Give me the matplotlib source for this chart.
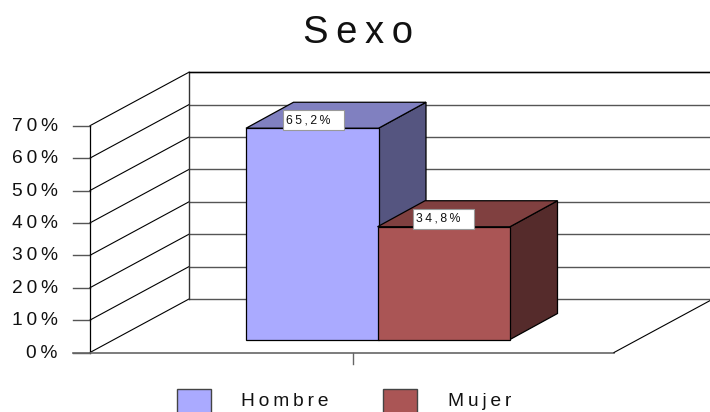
import matplotlib
matplotlib.use("Agg")
import matplotlib.pyplot as plt
from matplotlib.patches import Polygon, Rectangle

plt.rcParams["font.family"] = ["Liberation Sans", "DejaVu Sans"]

categories = ["Hombre", "Mujer"]
values = [65.2, 34.8]
value_labels = ["65,2%", "34,8%"]
y_ticks = [0, 10, 20, 30, 40, 50, 60, 70]
title = "Sexo"

front_colors = ["#AAAAFF", "#AA5555"]
top_colors = ["#8080C0", "#804040"]
side_colors = ["#555580", "#552B2B"]

# thin space between letters, the original text is tracked out
def spaced(s, sep="\u2009"):
    return sep.join(s)

px = 3.24  # pixels per percent
base_y = 352.5


def val(y_pixel):
    return (base_y - y_pixel) / px


fig = plt.figure(figsize=(7.1, 4.12), dpi=100)
ax = fig.add_axes([0, 0, 1, 1])
ax.set_xlim(0, 710)
ax.set_ylim(val(412), val(0))
ax.axis("off")

# floor and walls
left, right = 90, 614
dx, dy = 99, 53.5 / px
top = y_ticks[-1]

for t in y_ticks:
    ax.plot([left, left + dx], [t, t + dy], color="black", lw=0.8, zorder=1)
    ax.plot([left + dx, 710], [t + dy, t + dy], color="#555555", lw=1.0, zorder=1)
    ax.plot([left - 17, left], [t, t], color="#555555", lw=1.0, zorder=1)
    ax.text(57.5, t - 0.2, spaced(f"{t}%"), ha="right", va="center", fontsize=13.8, color="#111111")

ax.plot([left, left], [0, top], color="black", lw=0.9, zorder=1)
ax.plot([left + dx, left + dx], [dy, top + dy], color="#333333", lw=1.0, zorder=1)
ax.plot([left + dx, 710], [top + dy, top + dy], color="black", lw=1.0, zorder=1)
ax.plot([left - 17, right], [0, 0], color="#666666", lw=1.2, zorder=1)
ax.plot([right, right + dx], [0, dy], color="black", lw=0.8, zorder=1)
ax.plot([352.5, 352.5], [0, val(364)], color="#666666", lw=1.0, zorder=1)

# bars
bar_width = 132.5
bar_left = [246, 377.5]
bar_base = val(339.5)
bar_dx, bar_dy = 47.5, 26 / px
box_left = [283, 413]

for i, v in enumerate(values):
    x0 = bar_left[i]
    x1 = x0 + bar_width
    h = bar_base + v
    ax.add_patch(Polygon([(x1, bar_base), (x1 + bar_dx, bar_base + bar_dy), (x1 + bar_dx, h + bar_dy), (x1, h)],
                         fc=side_colors[i], ec="black", lw=0.9, zorder=2 + i))
    ax.add_patch(Polygon([(x0, h), (x0 + bar_dx, h + bar_dy), (x1 + bar_dx, h + bar_dy), (x1, h)],
                         fc=top_colors[i], ec="black", lw=0.9, zorder=2 + i))
    ax.add_patch(Rectangle((x0, bar_base), bar_width, v, fc=front_colors[i], ec="black", lw=0.9, zorder=2 + i))
    ax.add_patch(Rectangle((box_left[i], h - 0.6), 61, 20 / px, fc="white", ec="#999999", lw=0.8, zorder=5))
    ax.text(box_left[i] + 3, h - 0.6 + 10 / px, spaced(value_labels[i], "\u2009"), ha="left", va="center",
            fontsize=8.8, color="#111111", zorder=6)

ax.text(358, val(33), spaced(title, "\u2009"), ha="center", va="center", fontsize=27.5, color="#111111")

# legend
swatch_x = [177, 383]
legend_text_x = [241, 448]
for i, c in enumerate(categories):
    ax.add_patch(Rectangle((swatch_x[i], val(413)), 34, val(389) - val(413), fc=front_colors[i], ec="#444444", lw=1.0))
    ax.text(legend_text_x[i], val(402), spaced(c, "\u2009"), ha="left", va="center", fontsize=13.8, color="#111111")

fig.savefig("out.png", dpi=100)
